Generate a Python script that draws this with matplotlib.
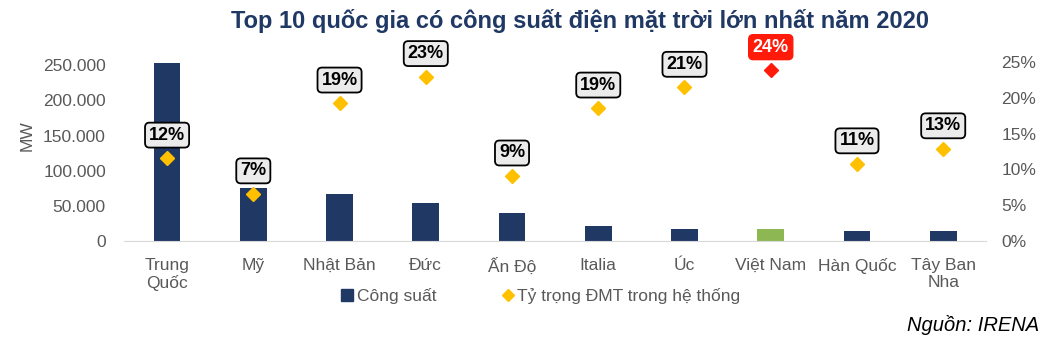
import numpy as np
import matplotlib.pyplot as plt
from matplotlib.ticker import FuncFormatter

plt.rcParams["font.family"] = ["Liberation Sans", "DejaVu Sans"]

# data
countries = ["Trung\nQuốc", "Mỹ", "Nhật Bản", "Đức", "Ấn Độ",
             "Italia", "Úc", "Việt Nam", "Hàn Quốc", "Tây Ban\nNha"]
capacity_mw = [253400, 75600, 67000, 53800, 39200, 21600, 17600, 16500, 14600, 14100]
share = [0.116, 0.066, 0.193, 0.230, 0.091, 0.186, 0.215, 0.239, 0.108, 0.129]
share_labels = ["12%", "7%", "19%", "23%", "9%", "19%", "21%", "24%", "11%", "13%"]
highlight = "Việt Nam"

NAVY = "#1F3864"
GREEN = "#8CB753"
GOLD = "#FFC000"
RED = "#FF1A0A"
GREY = "#595959"

fig = plt.figure(figsize=(10.64, 3.47), dpi=100)
ax = fig.add_axes([0.1165, 0.3055, 0.8105, 0.608])
ax2 = ax.twinx()

x = np.arange(len(countries))
bar_colors = [GREEN if c == highlight else NAVY for c in countries]
ax.bar(x, capacity_mw, width=0.31, color=bar_colors, zorder=2)

ax.set_xlim(-0.5, len(countries) - 0.5)
ax.set_ylim(0, 300000)
ax.set_yticks(np.arange(0, 250001, 50000))
ax.yaxis.set_major_formatter(FuncFormatter(lambda v, p: f"{int(v):,}".replace(",", ".")))
ax.set_xticks(x)
ax.set_xticklabels(countries, fontsize=12.5, color=GREY, linespacing=1.2)
ax.tick_params(axis="y", labelsize=12.5, labelcolor=GREY, length=0, pad=13)
ax.tick_params(axis="x", length=0, pad=12)
ax.set_ylabel("MW", fontsize=12.5, color=GREY, labelpad=6)

for sp in ["top", "right", "left"]:
    ax.spines[sp].set_visible(False)
    ax2.spines[sp].set_visible(False)
ax.spines["bottom"].set_color("#D9D9D9")
ax2.spines["bottom"].set_visible(False)

# share of solar in the system (right axis)
ax2.set_ylim(0, 0.295)
ax2.set_yticks(np.arange(0, 0.2501, 0.05))
ax2.yaxis.set_major_formatter(FuncFormatter(lambda v, p: f"{v * 100:.0f}%"))
ax2.tick_params(axis="y", labelsize=12.5, labelcolor=GREY, length=0, pad=11)

for xi, c, s, lab in zip(x, countries, share, share_labels):
    is_hl = c == highlight
    ax2.plot(xi, s, marker="D", markersize=7, color=RED if is_hl else GOLD,
             linestyle="none", zorder=3)
    if is_hl:
        box = dict(boxstyle="round,pad=0.22,rounding_size=0.25", fc=RED, ec=RED)
        tc = "white"
    else:
        box = dict(boxstyle="round,pad=0.22,rounding_size=0.25", fc="#EBEBEB",
                   ec="black", lw=1.3)
        tc = "black"
    ax2.annotate(lab, (xi, s), xytext=(0, 16.5), textcoords="offset points",
                 ha="center", va="center", fontsize=13, fontweight="bold",
                 color=tc, bbox=box, zorder=4)

# legend
h1 = plt.Line2D([], [], marker="s", color=NAVY, linestyle="none", markersize=8)
h2 = plt.Line2D([], [], marker="D", color=GOLD, linestyle="none", markersize=6)
fig.legend([h1, h2], ["Công suất", "Tỷ trọng ĐMT trong hệ thống"],
           loc="center", bbox_to_anchor=(0.507, 0.148), ncol=2, frameon=False,
           fontsize=12.5, labelcolor=GREY, handletextpad=0.05, columnspacing=3.6,
           handlelength=1.0)

fig.text(0.545, 0.94, "Top 10 quốc gia có công suất điện mặt trời lớn nhất năm 2020",
         ha="center", va="center", fontsize=17, fontweight="bold", color=NAVY)
fig.text(0.977, 0.063, "Nguồn: IRENA", ha="right", va="center", fontsize=14.5,
         style="italic", color="black")

fig.savefig("out.png", dpi=100)
